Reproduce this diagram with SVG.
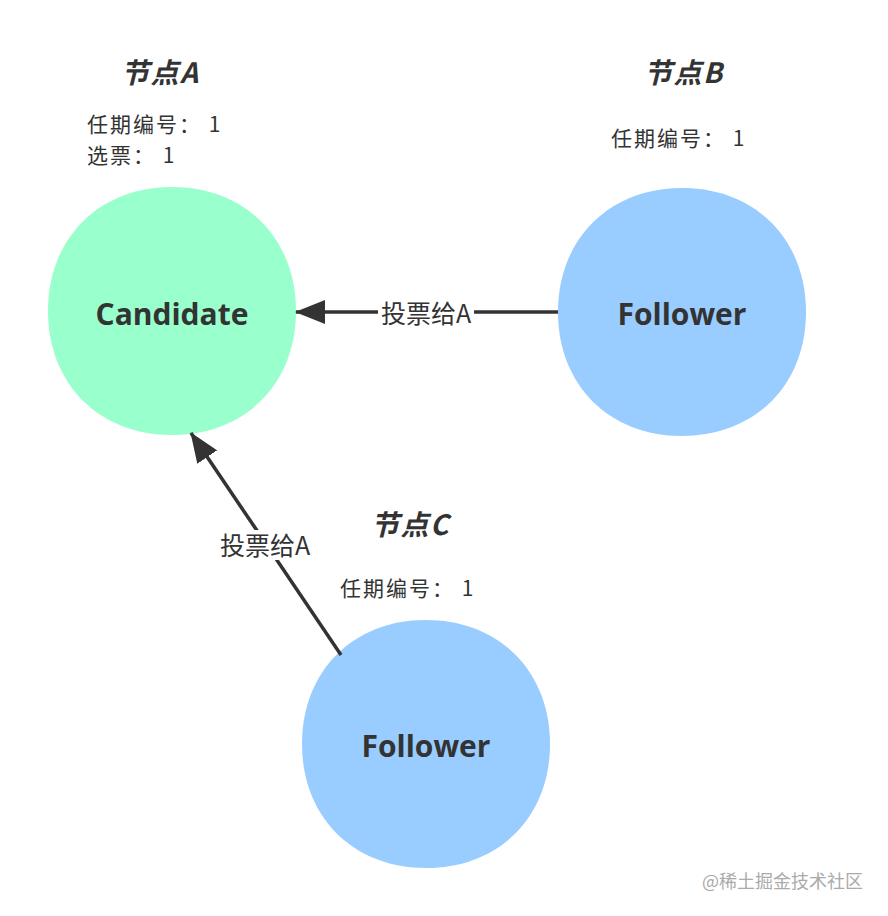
<svg xmlns="http://www.w3.org/2000/svg" width="888" height="916" viewBox="0 0 888 916">
<style>
.title{font-family:"Noto Sans CJK SC","Noto Sans",sans-serif;font-size:28px;font-weight:bold;font-style:italic;fill:#333;letter-spacing:1.5px}
.info{font-family:"Noto Sans CJK SC","Noto Sans",sans-serif;font-size:21px;fill:#333;letter-spacing:2px}
.node{font-family:"Open Sans","Noto Sans",sans-serif;font-size:30px;font-weight:bold;fill:#333;text-anchor:middle}
.lbl{font-family:"Noto Sans CJK SC","Noto Sans",sans-serif;font-size:25px;fill:#333;text-anchor:middle}
.edge{stroke:#333;stroke-width:3.5;fill:none}
.wm{font-family:"Noto Sans CJK SC",sans-serif;font-size:18px;fill:#aaa}
</style>
<defs>
<marker id="arr" viewBox="0 0 30 24" refX="29" refY="12" markerWidth="30" markerHeight="24" markerUnits="userSpaceOnUse" orient="auto">
<path d="M0,0 L30,12 L0,24 Z" fill="#333"/>
</marker>
</defs>
<rect width="888" height="916" fill="#fff"/>
<g id="nodeA">
<path d="M172,187 C245,187 296,238 296,311 C296,384 245,435 172,435 C99,435 48,384 48,311 C48,238 99,187 172,187 Z" fill="#99FFCC"/>
<text class="node" x="172" y="325">Candidate</text>
<text class="title" x="121" y="83">节点A</text>
<text class="info" x="87" y="132">任期编号： 1</text>
<text class="info" x="87" y="163">选票： 1</text>
</g>
<g id="nodeB">
<path d="M682,188 C755,188 806,239 806,312 C806,385 755,436 682,436 C609,436 558,385 558,312 C558,239 609,188 682,188 Z" fill="#99CCFF"/>
<text class="node" x="682" y="325">Follower</text>
<text class="title" x="644" y="83">节点B</text>
<text class="info" x="611" y="146">任期编号： 1</text>
</g>
<g id="nodeC">
<path d="M426,620 C499,620 550,671 550,744 C550,817 499,868 426,868 C353,868 302,817 302,744 C302,671 353,620 426,620 Z" fill="#99CCFF"/>
<text class="node" x="426" y="757">Follower</text>
<text class="title" x="371" y="535">节点C</text>
<text class="info" x="340" y="596">任期编号： 1</text>
</g>
<g id="connectors">
<line class="edge" x1="558" y1="312" x2="296" y2="312" marker-end="url(#arr)"/>
<rect x="378" y="298" width="96" height="30" fill="#fff"/>
<text class="lbl" x="426" y="323">投票给A</text>
<line class="edge" x1="341" y1="655" x2="191" y2="433" marker-end="url(#arr)"/>
<rect x="216" y="530" width="98" height="30" fill="#fff"/>
<text class="lbl" x="265" y="555">投票给A</text>
</g>
<text class="wm" x="702" y="888">@稀土掘金技术社区</text>
</svg>
